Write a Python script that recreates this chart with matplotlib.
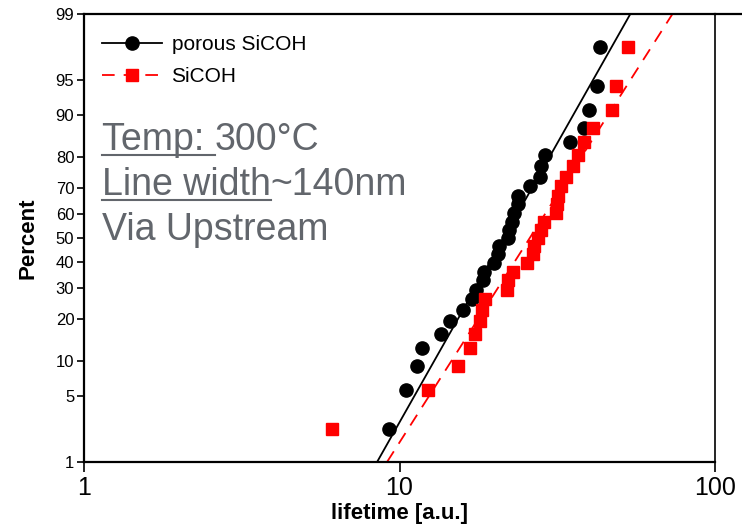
import numpy as np
import matplotlib
matplotlib.use("Agg")
import matplotlib.pyplot as plt
from matplotlib.lines import Line2D
from statistics import NormalDist

# data: lifetimes [a.u.] and cumulative percent (median ranks)
porous_t = [9.23, 10.46, 11.39, 11.81, 13.54, 14.43, 15.90, 16.98, 17.52, 18.44,
            18.57, 19.98, 20.48, 20.72, 22.02, 22.28, 22.73, 23.11, 23.69, 23.80,
            25.92, 27.88, 28.09, 28.98, 34.71, 38.52, 39.79, 42.27, 43.30]
sicoh_t = [6.11, 12.31, 15.32, 16.73, 17.35, 17.99, 18.22, 18.66, 21.91, 22.07,
           22.89, 25.36, 26.43, 26.75, 27.42, 28.09, 28.77, 31.35, 31.57, 31.87,
           32.50, 33.71, 35.40, 36.66, 38.52, 40.96, 47.17, 48.56, 52.89]
pct = [2.38, 5.78, 9.18, 12.59, 15.99, 19.39, 22.79, 26.19, 29.59, 32.99,
       36.39, 39.80, 43.20, 46.60, 50.00, 53.40, 56.80, 60.20, 63.61, 67.01,
       70.41, 73.81, 77.21, 80.61, 84.01, 87.41, 90.82, 94.22, 97.62]

# fitted lognormal lines (end points)
porous_fit_t = [8.49, 53.9]
sicoh_fit_t = [9.13, 73.3]
fit_pct = [1, 99]

yticks = [1, 5, 10, 20, 30, 40, 50, 60, 70, 80, 90, 95, 99]
xticks = [1, 10, 100]

nd = NormalDist()
_ppf = np.vectorize(lambda p: nd.inv_cdf(min(max(p / 100.0, 1e-9), 1 - 1e-9)), otypes=[float])
_cdf = np.vectorize(lambda z: nd.cdf(z) * 100.0, otypes=[float])


def fwd(p):
    return _ppf(np.asarray(p, dtype=float))


def inv(z):
    return _cdf(np.asarray(z, dtype=float))


plt.rcParams["font.family"] = ["Liberation Sans", "DejaVu Sans"]

fig = plt.figure(figsize=(7.42, 5.31), dpi=100)
ax = fig.add_axes([84 / 742, 69 / 531, 631 / 742, 448 / 531])

ax.set_xscale("log")
ax.set_yscale("function", functions=(fwd, inv))

ax.plot(porous_fit_t, fit_pct, color="black", lw=1.3)
ax.plot(sicoh_fit_t, fit_pct, color="red", lw=1.3, dashes=(7, 5))
ax.plot(porous_t, pct, "o", color="black", ms=9.5)
ax.plot(sicoh_t, pct, "s", color="red", ms=8.5, mec="red")

ax.set_xlim(1, 100)
ax.set_ylim(1, 99)
ax.set_xticks(xticks)
ax.set_xticklabels([str(v) for v in xticks])
ax.xaxis.set_minor_locator(matplotlib.ticker.NullLocator())
ax.set_yticks(yticks)
ax.set_yticklabels([str(v) for v in yticks])
ax.yaxis.set_minor_locator(matplotlib.ticker.NullLocator())

ax.tick_params(axis="x", direction="out", length=7, width=1.2, labelsize=18, pad=3)
ax.tick_params(axis="y", direction="out", length=5, width=1.2, labelsize=12, pad=2)
for s in ["left", "bottom", "top", "right"]:
    ax.spines[s].set_linewidth(1.6)
ax.spines["right"].set_linewidth(1.2)

# top border runs on to the right edge of the picture
fig.add_artist(Line2D([715 / 742, 1.0], [1 - 14 / 531, 1 - 14 / 531], color="black", lw=1.6))

ax.set_xlabel("lifetime [a.u.]", fontsize=16, fontweight="bold", labelpad=2)
ax.set_ylabel("Percent", fontsize=16, fontweight="bold", labelpad=12)

handles = [Line2D([], [], color="black", lw=1.3, marker="o", ms=9.5),
           Line2D([], [], color="red", lw=1.3, dashes=(7, 5), marker="s", ms=8.5)]
ax.legend(handles, ["porous SiCOH", "SiCOH"], loc="upper left", frameon=False,
          fontsize=15, handlelength=2.9, handletextpad=0.45, labelspacing=0.6,
          bbox_to_anchor=(0.005, 0.985), borderaxespad=0.3)

# annotation text with underlined parts
gray = "#62666c"
tfont = dict(fontsize=27, color=gray)
fig.canvas.draw()
r = fig.canvas.get_renderer()


def put(x_px, y_px, s, underline=False):
    # x_px, y_px: figure pixels from top-left (baseline)
    t = fig.text(x_px / 742, 1 - y_px / 531, s, va="baseline", ha="left", **tfont)
    bb = t.get_window_extent(renderer=r)
    if underline:
        yy = 1 - (y_px + 5) / 531
        fig.add_artist(Line2D([bb.x0 / 742, bb.x1 / 742], [yy, yy], color=gray, lw=1.5))
    return bb.x1


x = put(102, 150, "Temp: ", underline=True)
put(x, 150, "300°C")
x = put(102, 195, "Line width", underline=True)
put(x, 195, "~140nm")
put(102, 240, "Via Upstream")

fig.savefig("out.png", dpi=100)
